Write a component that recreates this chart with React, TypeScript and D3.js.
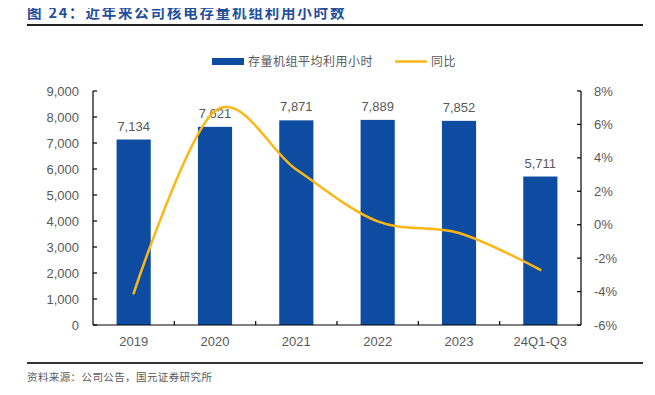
import React, { useEffect, useRef } from "react";
import * as d3 from "d3";

const categories = ["2019", "2020", "2021", "2022", "2023", "24Q1-Q3"];
const hours = [7134, 7621, 7871, 7889, 7852, 5711];
const yoy = [-4.1, 6.8, 3.3, 0.2, -0.5, -2.7];
const leftTicks = [0, 1000, 2000, 3000, 4000, 5000, 6000, 7000, 8000, 9000];
const rightTicks = [-6, -4, -2, 0, 2, 4, 6, 8];

const W = 655;
const H = 395;
const BLUE = "#0d4ca0";
const GOLD = "#fdb714";
const GREY = "#595959";
const CJK = "'Noto Sans CJK SC', sans-serif";
const NUM = "'Liberation Sans', Arial, sans-serif";

const App = () => {
  const ref = useRef<SVGSVGElement>(null);

  useEffect(() => {
    if (!ref.current) return;
    const svg = d3.select(ref.current);
    svg.selectAll("*").remove();

    const left = 93, right = 581, top = 91, bottom = 325;

    const x = d3.scaleBand().domain(categories).range([left, right]).paddingInner(0.58).paddingOuter(0.29);
    const xc = d3.scaleBand().domain(categories).range([left, right]);
    const y = d3.scaleLinear().domain([0, 9000]).range([bottom, top]);
    const y2 = d3.scaleLinear().domain([-6, 8]).range([bottom, top]);

    // title
    svg.append("text")
      .attr("x", 27).attr("y", 18)
      .attr("font-family", CJK).attr("font-weight", "bold")
      .attr("font-size", 14.5).attr("fill", "#1f4e9b")
      .attr("letter-spacing", 1.8)
      .text("图 24：近年来公司核电存量机组利用小时数");
    svg.append("line").attr("x1", 27).attr("x2", 643).attr("y1", 25).attr("y2", 25)
      .attr("stroke", "#222").attr("stroke-width", 2);

    // legend
    const lg = svg.append("g");
    lg.append("rect").attr("x", 212).attr("y", 58).attr("width", 32).attr("height", 7).attr("fill", BLUE);
    lg.append("text").attr("x", 248).attr("y", 66).attr("font-family", CJK).attr("font-size", 12)
      .attr("letter-spacing", 0.5).attr("fill", GREY).text("存量机组平均利用小时");
    lg.append("line").attr("x1", 395).attr("x2", 427).attr("y1", 61.5).attr("y2", 61.5)
      .attr("stroke", GOLD).attr("stroke-width", 2.5);
    lg.append("text").attr("x", 431).attr("y", 66).attr("font-family", CJK).attr("font-size", 12)
      .attr("letter-spacing", 0.5).attr("fill", GREY).text("同比");

    // bars
    svg.append("g").selectAll("rect").data(hours).join("rect")
      .attr("x", (_, i) => x(categories[i])!)
      .attr("width", x.bandwidth())
      .attr("y", (d) => y(d))
      .attr("height", (d) => bottom - y(d))
      .attr("fill", BLUE);

    svg.append("g").selectAll("text").data(hours).join("text")
      .attr("x", (_, i) => xc(categories[i])! + xc.bandwidth() / 2)
      .attr("y", (d) => y(d) - 9)
      .attr("text-anchor", "middle")
      .attr("font-family", NUM).attr("font-size", 13).attr("fill", GREY)
      .text((d) => d3.format(",")(d));

    // axes
    const axisG = svg.append("g").attr("stroke", "#000").attr("stroke-width", 1.2).attr("fill", "none");
    axisG.append("line").attr("x1", left).attr("x2", left).attr("y1", top).attr("y2", bottom);
    axisG.append("line").attr("x1", right).attr("x2", right).attr("y1", top).attr("y2", bottom);
    axisG.append("line").attr("x1", left).attr("x2", right).attr("y1", bottom).attr("y2", bottom);
    axisG.selectAll(".lt").data(leftTicks).join("line")
      .attr("x1", left).attr("x2", left + 4).attr("y1", (d) => y(d)).attr("y2", (d) => y(d));
    axisG.selectAll(".rt").data(rightTicks).join("line")
      .attr("x1", right - 4).attr("x2", right).attr("y1", (d) => y2(d)).attr("y2", (d) => y2(d));
    axisG.selectAll(".bt").data(categories.slice(1)).join("line")
      .attr("x1", (d) => xc(d)!).attr("x2", (d) => xc(d)!).attr("y1", bottom).attr("y2", bottom - 4);

    svg.append("g").selectAll("text").data(leftTicks).join("text")
      .attr("x", 79).attr("y", (d) => y(d) + 4.5).attr("text-anchor", "end")
      .attr("font-family", NUM).attr("font-size", 13).attr("fill", GREY)
      .text((d) => d3.format(",")(d));
    svg.append("g").selectAll("text").data(rightTicks).join("text")
      .attr("x", 594).attr("y", (d) => y2(d) + 4.5)
      .attr("font-family", NUM).attr("font-size", 13).attr("fill", GREY)
      .text((d) => `${d}%`);
    svg.append("g").selectAll("text").data(categories).join("text")
      .attr("x", (d) => xc(d)! + xc.bandwidth() / 2).attr("y", 346).attr("text-anchor", "middle")
      .attr("font-family", NUM).attr("font-size", 13).attr("fill", GREY)
      .text((d) => d);

    // yoy line
    const line = d3.line<number>()
      .x((_, i) => xc(categories[i])! + xc.bandwidth() / 2)
      .y((d) => y2(d))
      .curve(d3.curveCardinal.tension(0));
    svg.append("path").datum(yoy).attr("d", line)
      .attr("fill", "none").attr("stroke", GOLD).attr("stroke-width", 2.5)
      .attr("stroke-linecap", "round");

    // footer
    svg.append("line").attr("x1", 27).attr("x2", 643).attr("y1", 363).attr("y2", 363)
      .attr("stroke", "#333").attr("stroke-width", 2);
    svg.append("text").attr("x", 27).attr("y", 381)
      .attr("font-family", CJK).attr("font-size", 10.5).attr("fill", GREY)
      .attr("letter-spacing", 0.4)
      .text("资料来源：公司公告，国元证券研究所");
  }, []);

  return (
    <div style={{ margin: -8 }}>
      <svg ref={ref} width={W} height={H} style={{ display: "block", background: "#fff" }} />
    </div>
  );
};

export default App;
